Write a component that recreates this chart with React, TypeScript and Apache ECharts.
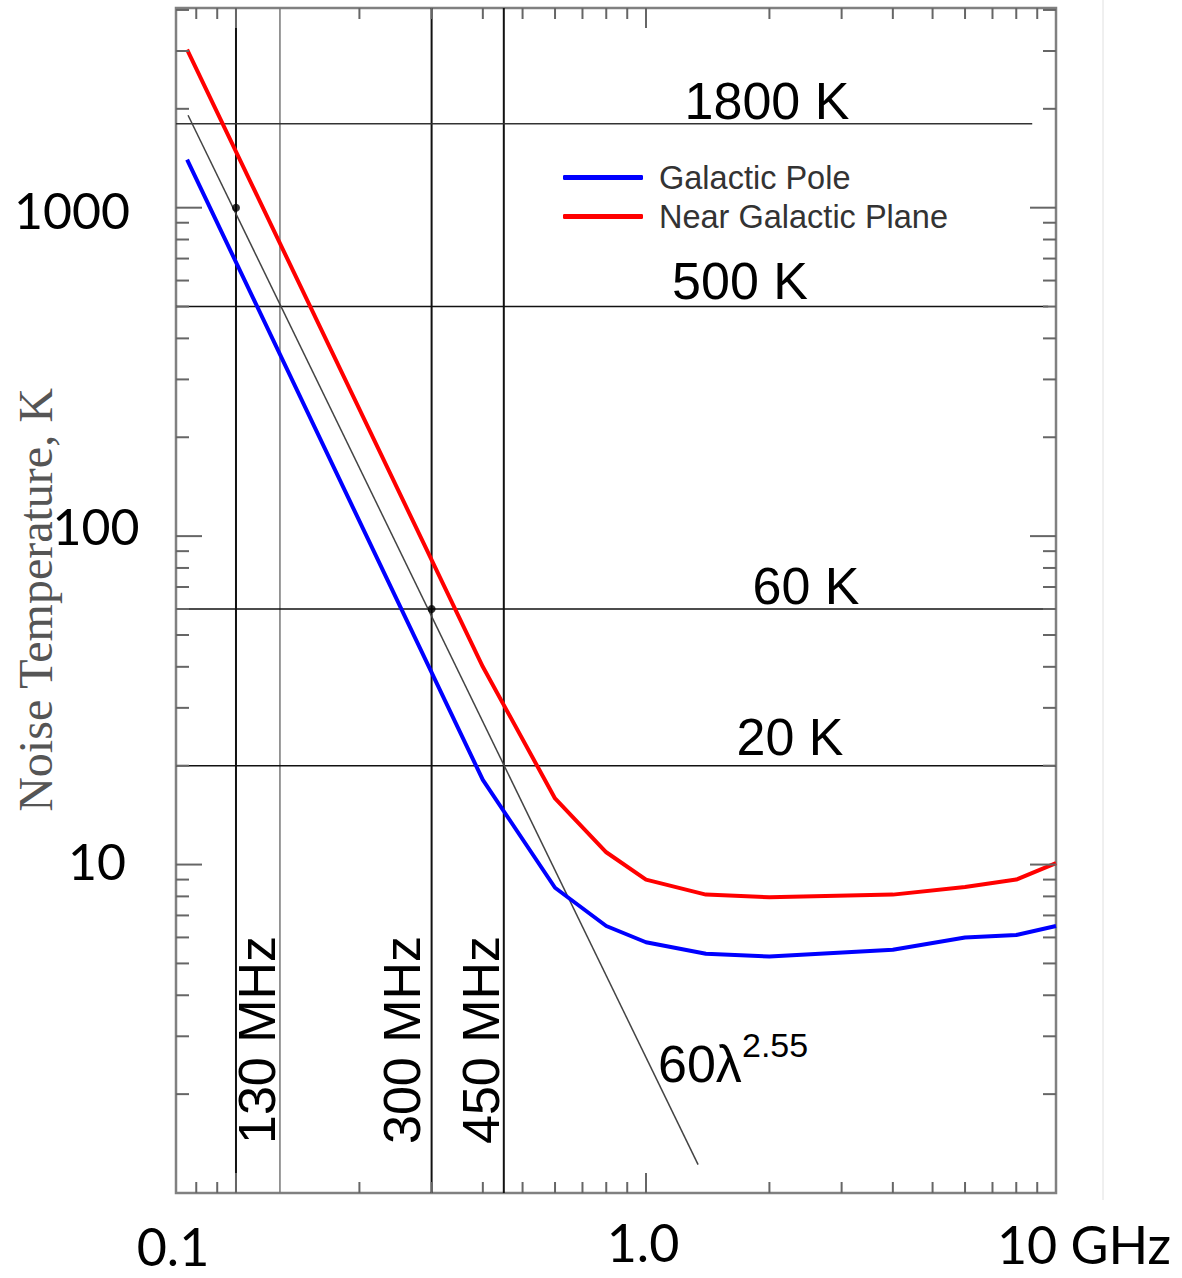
import React, { useEffect, useRef } from "react";
import * as echarts from "echarts";

// ---- data (GHz, K) ----
const freqGHz = [0.076, 0.4, 0.6, 0.8, 1.0, 1.4, 2, 4, 6, 8, 10];
const galacticPole = [1400, 18.1, 8.5, 6.5, 5.8, 5.35, 5.25, 5.5, 6.0, 6.1, 6.5];
const nearGalacticPlane = [3030, 40, 15.9, 10.9, 9.0, 8.1, 7.95, 8.1, 8.55, 9.0, 10.1];

const lambdaLawFreq = [0.0764, 1.34];
const lambdaLawTemp = [1912, 1.22];

const levelTemps = [1800, 500, 60, 20];
const levelLabels = ["1800 K", "500 K", "60 K", "20 K"];
const levelEndFreq = [8.75, 9.57, 10, 10];

const markerFreqs = [0.1, 0.128, 0.3, 0.45];
const markerLabels = ["130 MHz", "", "300 MHz", "450 MHz"];

const dotFreq = [0.1, 0.3];
const dotTemp = [1000, 60];

const xMajorTicks = [0.1, 1];
const xMinorTicks = [0.08, 0.09, 0.2, 0.3, 0.4, 0.5, 0.6, 0.7, 0.8, 0.9, 2, 3, 4, 5, 6, 7, 8, 9];
const yMajorTicks = [10, 100, 1000];
const yMinorTicks = [2, 3, 4, 5, 6, 7, 8, 9, 20, 30, 40, 50, 60, 70, 80, 90, 200, 300, 400, 500, 600, 700, 800, 900, 2000, 3000, 4000];

const yTickLabels = ["1000", "100", "10"];
const xTickLabels = ["0.1", "1.0", "10 GHz"];

const X_MIN = 0.0714;
const X_MAX = 10;
const Y_MIN = 1;
const Y_MAX = 4055;

const SANS = "'Liberation Sans', Arial, sans-serif";
const CAL = "Lato, 'Open Sans', sans-serif";

export default function App() {
  const ref = useRef<HTMLDivElement>(null);

  useEffect(() => {
    document.body.style.margin = "0";
    document.body.style.overflow = "hidden";
    if (!ref.current) return;
    const chart = echarts.init(ref.current, null, { renderer: "svg" });

    const series: any[] = [];

    markerFreqs.forEach((f, i) => {
      series.push({
        type: "line",
        name: "marker" + i,
        data: [
          [f, Y_MIN],
          [f, Y_MAX],
        ],
        symbol: "none",
        silent: true,
        lineStyle: { color: markerLabels[i] ? "#111" : "#777", width: markerLabels[i] ? 2 : 1.5 },
        z: 2,
      });
    });

    levelTemps.forEach((t, i) => {
      series.push({
        type: "line",
        name: levelLabels[i],
        data: [
          [X_MIN, t],
          [levelEndFreq[i], t],
        ],
        symbol: "none",
        silent: true,
        lineStyle: { color: i === 0 ? "#333" : "#111", width: 1.5 },
        z: 2,
      });
    });

    series.push({
      type: "line",
      name: "60λ^2.55",
      data: lambdaLawFreq.map((f, i) => [f, lambdaLawTemp[i]]),
      symbol: "none",
      silent: true,
      lineStyle: { color: "#444", width: 1.5 },
      z: 3,
    });

    series.push({
      type: "line",
      name: "Galactic Pole",
      data: freqGHz.map((f, i) => [f, galacticPole[i]]),
      symbol: "none",
      color: "#0000ff",
      lineStyle: { color: "#0000ff", width: 4 },
      z: 4,
    });
    series.push({
      type: "line",
      name: "Near Galactic Plane",
      data: freqGHz.map((f, i) => [f, nearGalacticPlane[i]]),
      symbol: "none",
      color: "#ff0000",
      lineStyle: { color: "#ff0000", width: 4 },
      z: 4,
    });

    series.push({
      type: "scatter",
      name: "points",
      data: dotFreq.map((f, i) => [f, dotTemp[i]]),
      symbolSize: 8,
      itemStyle: { color: "#000" },
      silent: true,
      z: 5,
    });

    chart.setOption({
      animation: false,
      grid: {
        left: 176,
        right: 126,
        top: 8,
        bottom: 85,
        show: true,
        borderColor: "#808080",
        borderWidth: 2.5,
        backgroundColor: "transparent",
      },
      xAxis: {
        type: "log",
        logBase: 10,
        min: X_MIN,
        max: X_MAX,
        axisLine: { show: false },
        axisTick: { show: false },
        axisLabel: { show: false },
        splitLine: { show: false },
      },
      yAxis: {
        type: "log",
        logBase: 10,
        min: Y_MIN,
        max: Y_MAX,
        axisLine: { show: false },
        axisTick: { show: false },
        axisLabel: { show: false },
        splitLine: { show: false },
      },
      legend: {
        data: ["Galactic Pole", "Near Galactic Plane"],
        orient: "vertical",
        left: 558,
        top: 156,
        itemWidth: 80,
        itemHeight: 5,
        icon: "roundRect",
        itemGap: 6,
        textStyle: {
          fontSize: 32.5,
          fontFamily: SANS,
          color: "#333",
          lineHeight: 30,
          padding: [0, 0, 0, 11],
        },
      },
      series,
    });

    const px = (f: number, t: number) => chart.convertToPixel({ gridIndex: 0 }, [f, t]) as number[];
    const [xl, yb] = px(X_MIN, Y_MIN);
    const [xr, yt] = px(X_MAX, Y_MAX);

    const graphics: any[] = [];
    const tick = (x1: number, y1: number, x2: number, y2: number) =>
      graphics.push({
        type: "line",
        silent: true,
        z: 6,
        shape: { x1, y1, x2, y2 },
        style: { stroke: "#666", lineWidth: 2 },
      });

    xMajorTicks.forEach((f) => {
      const x = px(f, 10)[0];
      tick(x, yb, x, yb - 20);
      tick(x, yt, x, yt + 20);
    });
    xMinorTicks.forEach((f) => {
      const x = px(f, 10)[0];
      tick(x, yb, x, yb - 11);
      tick(x, yt, x, yt + 11);
    });
    yMajorTicks.forEach((t) => {
      const y = px(1, t)[1];
      tick(xl, y, xl + 26, y);
      tick(xr, y, xr - 26, y);
    });
    yMinorTicks.forEach((t) => {
      const y = px(1, t)[1];
      tick(xl, y, xl + 13, y);
      tick(xr, y, xr - 13, y);
    });

    const text = (
      s: string,
      x: number,
      y: number,
      size: number,
      family: string,
      opts: any = {}
    ) =>
      graphics.push({
        type: "text",
        silent: true,
        z: 7,
        x,
        y,
        rotation: opts.rotation || 0,
        style: {
          text: s,
          fontSize: size,
          fontFamily: family,
          fill: opts.fill || "#000",
          align: opts.align || "center",
          verticalAlign: "middle",
        },
      });

    // y tick labels
    const yLabelPos = [
      [72, 210],
      [96, 526],
      [97, 861],
    ];
    yTickLabels.forEach((s, i) => text(s, yLabelPos[i][0], yLabelPos[i][1], 50, CAL));
    // x tick labels
    const xLabelPos = [
      [173, 1246],
      [643, 1242],
      [1084, 1244],
    ];
    xTickLabels.forEach((s, i) => text(s, xLabelPos[i][0], xLabelPos[i][1], 52, CAL));

    // level labels
    const levelLabelPos = [
      [767, 101],
      [740, 281],
      [806, 586],
      [790, 737],
    ];
    levelLabels.forEach((s, i) => text(s, levelLabelPos[i][0], levelLabelPos[i][1], 52, SANS));

    // marker labels (rotated)
    const markerLabelX = [257, 0, 402, 481];
    markerLabels.forEach((s, i) => {
      if (s) text(s, markerLabelX[i], 1040, 52, SANS, { rotation: Math.PI / 2 });
    });

    // 60λ^2.55
    text("60λ", 658, 1064, 52, SANS, { align: "left" });
    text("2.55", 742, 1045, 34, SANS, { align: "left" });

    // y axis title
    text("Noise Temperature, K", 35, 600, 48, "'Liberation Serif', 'Times New Roman', serif", {
      rotation: Math.PI / 2,
      fill: "#555",
    });

    // slide edge line
    graphics.push({
      type: "line",
      silent: true,
      shape: { x1: 1103, y1: 0, x2: 1103, y2: 1200 },
      style: { stroke: "#e0e0e0", lineWidth: 1 },
    });

    chart.setOption({ graphic: graphics });

    return () => chart.dispose();
  }, []);

  return <div ref={ref} style={{ width: 1182, height: 1278 }} />;
}
